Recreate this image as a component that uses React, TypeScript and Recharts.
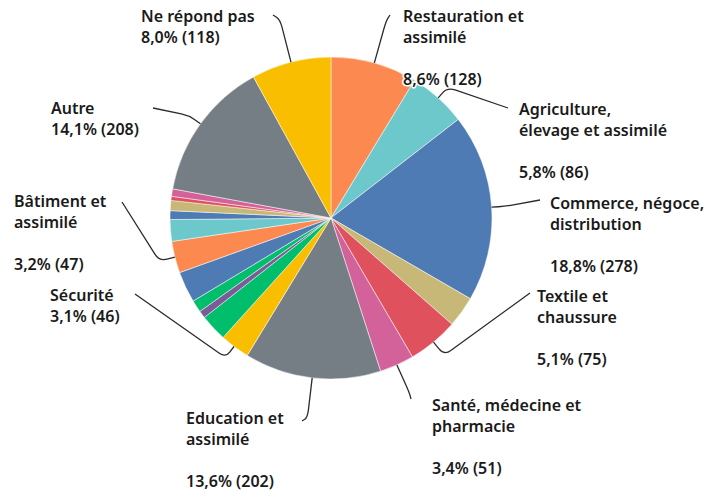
import { PieChart, Pie, Cell } from "recharts";

/* ------------------------------------------------------------------ */
/*  Data (clockwise from 12 o'clock)                                    */
/* ------------------------------------------------------------------ */

const sectors = [
  "Restauration et assimilé",
  "Agriculture, élevage et assimilé",
  "Commerce, négoce, distribution",
  "Secteur non libellé 1",
  "Textile et chaussure",
  "Santé, médecine et pharmacie",
  "Education et assimilé",
  "Secteur non libellé 2",
  "Secteur non libellé 3",
  "Secteur non libellé 4",
  "Secteur non libellé 5",
  "Sécurité",
  "Bâtiment et assimilé",
  "Secteur non libellé 6",
  "Secteur non libellé 7",
  "Secteur non libellé 8",
  "Secteur non libellé 9",
  "Secteur non libellé 10",
  "Autre",
  "Ne répond pas",
];

const counts = [128, 86, 278, 46, 75, 51, 202, 44, 40, 11, 18, 46, 47, 32, 13, 15, 6, 11, 208, 118];

// shares as printed on the chart (null = no label)
const shares: (number | null)[] = [
  8.6, 5.8, 18.8, null, 5.1, 3.4, 13.6, null, null, null,
  null, 3.1, 3.2, null, null, null, null, null, 14.1, 8.0,
];

const labelLines: (string[] | null)[] = [
  ["Restauration et", "assimilé"],
  ["Agriculture,", "élevage et assimilé"],
  ["Commerce, négoce,", "distribution"],
  null,
  ["Textile et", "chaussure"],
  ["Santé, médecine et", "pharmacie"],
  ["Education et", "assimilé"],
  null,
  null,
  null,
  null,
  ["Sécurité"],
  ["Bâtiment et", "assimilé"],
  null,
  null,
  null,
  null,
  null,
  ["Autre"],
  ["Ne répond pas"],
];

const sliceColors = [
  "#FC8A50", "#6CC8CB", "#4E7BB4", "#C8B878", "#DF515C",
  "#D3629A", "#767E85", "#F9BE00", "#00BE6C", "#7A5D98",
  "#00BE6C", "#4E7BB4", "#FC8A50", "#6CC8CB", "#4E7BB4",
  "#C8B878", "#DF515C", "#D3629A", "#767E85", "#F9BE00",
];

/* ------------------------------------------------------------------ */
/*  Label layout (offsets from the pie centre)                          */
/* ------------------------------------------------------------------ */

type Layout = { stem: number; end: [number, number]; text: [number, number]; shift?: number };

const LAYOUT: Record<number, Layout> = {
  0: { stem: 44, end: [59, -203], text: [72, -196] },
  1: { stem: 14, end: [177, -110], text: [188, -103] },
  2: { stem: 14, end: [209, -18], text: [219, -9] },
  4: { stem: 17, end: [199, 75], text: [206, 84] },
  5: { stem: 30, end: [80, 181], text: [101, 193] },
  6: { stem: 40, end: [-29, 203], text: [-145, 206] },
  11: { stem: 14, end: [-196, 76], text: [-281, 83], shift: 27.5 },
  12: { stem: 16, end: [-209, -16], text: [-317, -11] },
  18: { stem: 14, end: [-178, -110], text: [-280, -104] },
  19: { stem: 44, end: [-58, -203], text: [-190, -196] },
};

const RAD = Math.PI / 180;
const LINE_H = 21;

function roundedPath(pts: [number, number][], r: number) {
  const [p0, p1, p2] = pts;
  const d1 = Math.hypot(p1[0] - p0[0], p1[1] - p0[1]) || 1;
  const d2 = Math.hypot(p2[0] - p1[0], p2[1] - p1[1]) || 1;
  const r1 = Math.min(r, d1 / 2);
  const r2 = Math.min(r, d2 / 2);
  const a = [p1[0] - ((p1[0] - p0[0]) / d1) * r1, p1[1] - ((p1[1] - p0[1]) / d1) * r1];
  const b = [p1[0] + ((p2[0] - p1[0]) / d2) * r2, p1[1] + ((p2[1] - p1[1]) / d2) * r2];
  return `M${p0[0]},${p0[1]} L${a[0]},${a[1]} Q${p1[0]},${p1[1]} ${b[0]},${b[1]} L${p2[0]},${p2[1]}`;
}

const fmt = (v: number) => `${v.toFixed(1).replace(".", ",")}%`;

function renderLabel(props: any) {
  const { cx, cy, midAngle, outerRadius, index } = props;
  const lay = LAYOUT[index];
  const lines = labelLines[index];
  const share = shares[index];
  if (!lay || !lines || share == null) return null;

  const ang = (midAngle + (lay.shift ?? 0)) * RAD;
  const ux = Math.cos(-ang);
  const uy = Math.sin(-ang);
  const p0: [number, number] = [cx + outerRadius * ux, cy + outerRadius * uy];
  const p1: [number, number] = [p0[0] + lay.stem * ux, p0[1] + lay.stem * uy];
  const p2: [number, number] = [cx + lay.end[0], cy + lay.end[1]];

  const tx = cx + lay.text[0];
  const ty = cy + lay.text[1];
  const valueY = ty + LINE_H * (lines.length === 1 ? 1 : lines.length + 1);

  const textStyle = {
    fontFamily: "'Noto Sans', Roboto, sans-serif",
    fontSize: 16,
    fontWeight: 600,
    fill: "#1a1a1a",
    stroke: "#fff",
    strokeWidth: 3,
    paintOrder: "stroke",
    strokeLinejoin: "round",
  } as const;

  return (
    <g key={`lbl-${index}`}>
      <path d={roundedPath([p0, p1, p2], 8)} fill="none" stroke="#2b2b2b" strokeWidth={1.3} />
      {lines.map((l, i) => (
        <text key={i} x={tx} y={ty + i * LINE_H} style={textStyle}>
          {l}
        </text>
      ))}
      <text x={tx} y={valueY} style={textStyle}>
        {`${fmt(share)} (${counts[index]})`}
      </text>
    </g>
  );
}

export default function App() {
  const data = sectors.map((name, i) => ({ name, value: counts[i] }));

  return (
    <div style={{ position: "absolute", left: 0, top: 0, width: 712, height: 492, background: "#fff" }}>
      <PieChart width={712} height={492} margin={{ top: 0, right: 0, bottom: 0, left: 0 }}>
        <Pie
          data={data}
          dataKey="value"
          nameKey="name"
          cx={331}
          cy={218}
          outerRadius={161}
          startAngle={90}
          endAngle={-270}
          stroke="#ffffff"
          strokeWidth={0.5}
          label={renderLabel}
          labelLine={false}
          isAnimationActive={false}
        >
          {data.map((_, i) => (
            <Cell key={i} fill={sliceColors[i]} />
          ))}
        </Pie>
      </PieChart>
    </div>
  );
}
